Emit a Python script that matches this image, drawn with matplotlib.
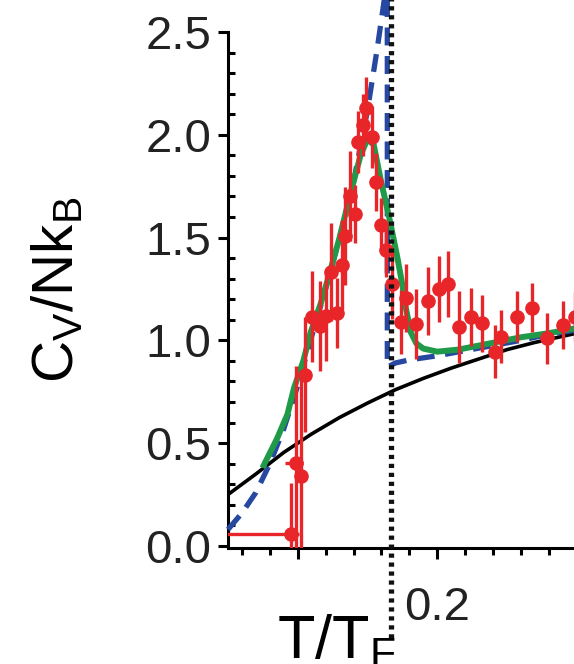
import matplotlib
matplotlib.use('Agg')
import matplotlib.pyplot as plt
import numpy as np

plt.rcParams['font.family'] = ['Liberation Sans', 'DejaVu Sans']
plt.rcParams['mathtext.fontset'] = 'custom'
plt.rcParams['mathtext.rm'] = 'Liberation Sans'
plt.rcParams['mathtext.it'] = 'Liberation Sans'

# measured heat capacity (red points)
t_data = [0.095, 0.0986, 0.1022, 0.105, 0.1105, 0.1158, 0.1201, 0.128, 0.1237,
          0.132, 0.1337, 0.1371, 0.1409, 0.1435, 0.1471, 0.1492, 0.153, 0.1564,
          0.160, 0.1636, 0.1679, 0.1738, 0.1774, 0.1846, 0.1934, 0.2009, 0.2077,
          0.2156, 0.224, 0.2324, 0.2414, 0.246, 0.257, 0.2677, 0.279, 0.2905, 0.2986]
cv_data = [0.058, 0.404, 0.34, 0.832, 1.115, 1.07, 1.12, 1.133, 1.333,
           1.367, 1.508, 1.702, 1.615, 1.966, 2.048, 2.13, 1.989, 1.77,
           1.561, 1.44, 1.273, 1.091, 1.205, 1.08, 1.192, 1.25, 1.274,
           1.064, 1.115, 1.083, 0.945, 1.018, 1.115, 1.159, 1.01, 1.075, 1.115]
cv_err = [0.25, 0.47, 0.47, 0.28, 0.22, 0.22, 0.22, 0.17, 0.24,
          0.22, 0.24, 0.22, 0.14, 0.15, 0.15, 0.15, 0.15, 0.14,
          0.13, 0.13, 0.17, 0.155, 0.165, 0.17, 0.165, 0.16, 0.16,
          0.175, 0.14, 0.14, 0.13, 0.13, 0.125, 0.12, 0.125, 0.115, 0.12]
t_err_lo = [0.05] + [0.008, 0.003] + [0.0] * 34
t_err_hi = [0.006] + [0.005, 0.003] + [0.0] * 34

# ideal Fermi gas (black)
t_fermi = [0.05, 0.07, 0.09, 0.11, 0.13, 0.15, 0.17, 0.19, 0.21, 0.23, 0.25, 0.27, 0.29, 0.30]
cv_fermi = [0.25, 0.35, 0.455, 0.545, 0.625, 0.695, 0.76, 0.815, 0.865, 0.91, 0.955, 0.99, 1.02, 1.035]

# theory curve (blue dashed)
t_blue = [0.05, 0.06, 0.07, 0.08, 0.09, 0.10, 0.11, 0.12, 0.13, 0.14, 0.15, 0.157,
          0.1625, 0.1642, 0.1642, 0.17, 0.18, 0.20, 0.22, 0.24, 0.26, 0.28, 0.30]
cv_blue = [0.08, 0.16, 0.26, 0.40, 0.57, 0.78, 1.02, 1.25, 1.50, 1.77, 2.12, 2.42,
           2.68, 2.68, 0.87, 0.89, 0.905, 0.925, 0.95, 0.975, 1.0, 1.03, 1.05]

# theory curve (green)
t_green = [0.0747, 0.085, 0.0926, 0.0974, 0.104, 0.1093, 0.1165, 0.1213, 0.130, 0.138,
           0.145, 0.150, 0.1545, 0.1595, 0.1655, 0.1715, 0.175, 0.1774, 0.181, 0.185,
           0.190, 0.200, 0.215, 0.230, 0.245, 0.26, 0.28, 0.30]
cv_green = [0.38, 0.52, 0.64, 0.77, 0.90, 1.04, 1.18, 1.29, 1.50, 1.72,
            1.90, 1.98, 1.95, 1.78, 1.60, 1.40, 1.27, 1.16, 1.04, 0.985,
            0.96, 0.945, 0.955, 0.975, 0.995, 1.015, 1.035, 1.06]

t_c = 0.1665

RED = '#e8262a'
GREEN = '#1e9a48'
BLUE = '#2748a0'

fig = plt.figure(figsize=(5.74, 6.64), dpi=100)
ax = fig.add_axes([228 / 574, 116 / 664, 348.75 / 574, 516 / 664])
ax.set_xlim(0.05, 0.30)
ax.set_ylim(-0.01, 2.5)

ax.plot(t_fermi, cv_fermi, color='black', lw=2.6, zorder=2)
ax.plot(t_blue, cv_blue, color=BLUE, lw=3.8, dashes=(3.4, 2.0), clip_on=False, zorder=3)
ax.plot(t_green, cv_green, color=GREEN, lw=4.3, solid_capstyle='butt', zorder=4)
ax.errorbar(t_data, cv_data, yerr=cv_err, xerr=[t_err_lo, t_err_hi], fmt='o',
            color=RED, ms=9.5, elinewidth=2.4, capsize=0, zorder=5)
ax.plot([t_c, t_c], [-0.45, 2.7], color='#111111', lw=3.8, ls=(0, (0.8, 0.9)),
        clip_on=False, zorder=6)

for side in ['top', 'right']:
    ax.spines[side].set_visible(False)
for side in ['left', 'bottom']:
    ax.spines[side].set_linewidth(2.2)

ax.set_yticks(np.arange(0, 2.51, 0.5))
ax.set_yticks(np.arange(0, 2.51, 0.1), minor=True)
ax.set_yticklabels(['0.0', '0.5', '1.0', '1.5', '2.0', '2.5'])
ax.set_xticks([0.1, 0.2])
ax.set_xticks(np.arange(0.06, 0.301, 0.02), minor=True)
ax.set_xticklabels(['', '0.2'])

ax.tick_params(axis='y', which='major', direction='out', length=7, width=2.2,
               labelsize=34, pad=5, labelcolor='#222222')
ax.tick_params(axis='y', which='minor', direction='in', length=5, width=2.2)
ax.tick_params(axis='x', which='major', direction='out', length=8, width=2.2,
               labelsize=34, pad=19, labelcolor='#222222')
ax.tick_params(axis='x', which='minor', direction='out', length=5, width=2.2)

fig.text(58 / 574, 1 - 290 / 664, r'C$_\mathrm{V}$/Nk$_\mathrm{B}$', rotation=90,
         ha='center', va='center', fontsize=42)
fig.text(336 / 574, 1 - 614 / 664, r'T/T$_\mathrm{F}$', ha='center', va='top', fontsize=44)

fig.savefig('out.png', dpi=100)
